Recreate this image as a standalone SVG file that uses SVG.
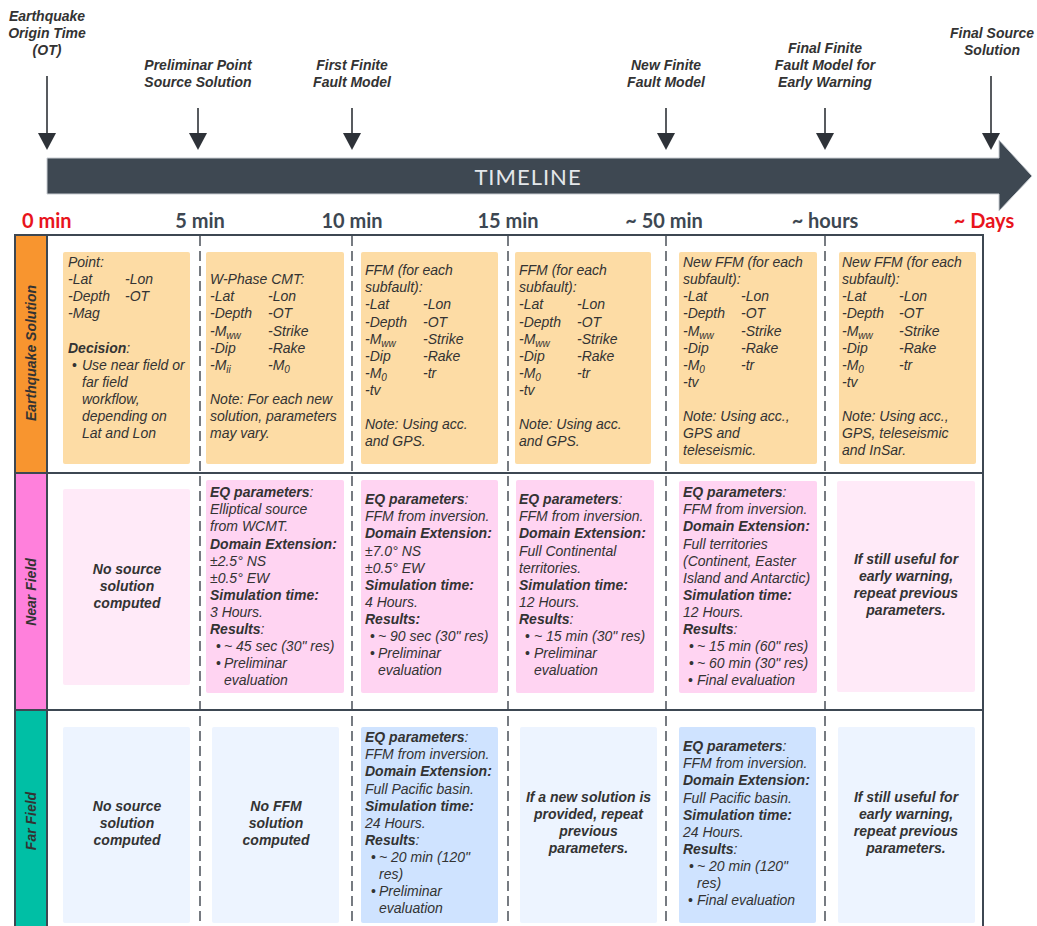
<svg xmlns="http://www.w3.org/2000/svg" width="1037" height="926" viewBox="0 0 1037 926">
<style>
.t{font-family:"Liberation Sans",Arial,sans-serif;font-size:14px;font-style:italic;fill:#333}
.b{font-weight:bold}
.c{text-anchor:middle}
.hd{font-family:"Liberation Sans",Arial,sans-serif;font-size:14px;font-weight:bold;font-style:italic;fill:#333;text-anchor:middle}
.tm{font-family:Lato,"Liberation Sans",sans-serif;font-size:20px;font-weight:bold;fill:#3D4752;text-anchor:middle}
.red{fill:#E8141C}
.shaft{stroke:#2E3238;stroke-width:1.6;fill:none}
.head{fill:#2E3238}
.dash{stroke:#555B63;stroke-width:1.6;stroke-dasharray:10 5;fill:none}
.grid{stroke:#3D4752;stroke-width:2;fill:none}
.or{fill:#FDDCA5}
.pk{fill:#FFD4F2}
.lpk{fill:#FFEAF8}
.bl{fill:#CFE3FF}
.lbl{fill:#EDF4FF}
.sub{font-size:10px}
</style>
<rect width="1037" height="926" fill="#FFFFFF"/>

<g id="timeline">
<path d="M47,158 H999 V140 L1032,176 L999,211 V194 H47 Z" fill="#3E4852" stroke="#C9CDD2" stroke-width="1"/>
<text x="528" y="185" font-family="Lato,'Liberation Sans',sans-serif" font-size="22" letter-spacing="1" fill="#E4E7EA" text-anchor="middle">TIMELINE</text>
</g>

<g id="milestones">
<g id="m-ot">
<text class="hd" x="47" y="21">Earthquake</text>
<text class="hd" x="47" y="38">Origin Time</text>
<text class="hd" x="47" y="55">(OT)</text>
<line class="shaft" x1="47" y1="76" x2="47" y2="135"/>
<polygon class="head" points="38,133 56,133 47,150"/>
</g>
<g id="m-prelim">
<text class="hd" x="198" y="70">Preliminar Point</text>
<text class="hd" x="198" y="87">Source Solution</text>
<line class="shaft" x1="198" y1="108" x2="198" y2="135"/>
<polygon class="head" points="189,133 207,133 198,150"/>
</g>
<g id="m-first">
<text class="hd" x="352" y="70">First Finite</text>
<text class="hd" x="352" y="87">Fault Model</text>
<line class="shaft" x1="352" y1="108" x2="352" y2="135"/>
<polygon class="head" points="343,133 361,133 352,150"/>
</g>
<g id="m-new">
<text class="hd" x="666" y="70">New Finite</text>
<text class="hd" x="666" y="87">Fault Model</text>
<line class="shaft" x1="666" y1="108" x2="666" y2="135"/>
<polygon class="head" points="657,133 675,133 666,150"/>
</g>
<g id="m-final-ffm">
<text class="hd" x="825" y="53">Final Finite</text>
<text class="hd" x="825" y="70">Fault Model for</text>
<text class="hd" x="825" y="87">Early Warning</text>
<line class="shaft" x1="825" y1="108" x2="825" y2="135"/>
<polygon class="head" points="816,133 834,133 825,150"/>
</g>
<g id="m-final-src">
<text class="hd" x="992" y="38">Final Source</text>
<text class="hd" x="992" y="55">Solution</text>
<line class="shaft" x1="991" y1="76" x2="991" y2="135"/>
<polygon class="head" points="982,133 1000,133 991,150"/>
</g>
</g>

<g id="time-labels">
<text class="tm red" x="22" y="228" text-anchor="start" style="text-anchor:start">0 min</text>
<text class="tm" x="200" y="228">5 min</text>
<text class="tm" x="352" y="228">10 min</text>
<text class="tm" x="508" y="228">15 min</text>
<text class="tm" x="664" y="228">~ 50 min</text>
<text class="tm" x="825" y="228">~ hours</text>
<text class="tm red" x="984" y="228">~ Days</text>
</g>

<g id="row-labels">
<rect x="15" y="235" width="32" height="238" fill="#F8952F"/>
<rect x="15" y="473" width="32" height="237" fill="#FF80DC"/>
<rect x="15" y="710" width="32" height="220" fill="#00BFA5"/>
<text class="hd" transform="translate(36,353) rotate(-90)" x="0" y="0">Earthquake Solution</text>
<text class="hd" transform="translate(36,592) rotate(-90)" x="0" y="0">Near Field</text>
<text class="hd" transform="translate(36,821) rotate(-90)" x="0" y="0">Far Field</text>
</g>

<g id="connectors">
<line class="dash" x1="200" y1="236" x2="200" y2="926"/>
<line class="dash" x1="352" y1="236" x2="352" y2="926"/>
<line class="dash" x1="508" y1="236" x2="508" y2="926"/>
<line class="dash" x1="666" y1="236" x2="666" y2="926"/>
<line class="dash" x1="825" y1="236" x2="825" y2="926"/>
<rect class="grid" x="15" y="235" width="968" height="700"/>
<line class="grid" x1="15" y1="473" x2="983" y2="473"/>
<line class="grid" x1="15" y1="710" x2="983" y2="710"/>
<line class="grid" x1="47" y1="235" x2="47" y2="930"/>
</g>

<!-- Row 1: Earthquake Solution -->
<g id="eq-0">
<rect class="or" x="63" y="252" width="127" height="212" rx="2"/>
<text class="t" x="68" y="267">Point:</text>
<text class="t" x="68" y="284">-Lat</text><text class="t" x="125" y="284">-Lon</text>
<text class="t" x="68" y="301">-Depth</text><text class="t" x="125" y="301">-OT</text>
<text class="t" x="68" y="318">-Mag</text>
<text class="t" x="68" y="352.5"><tspan class="b">Decision</tspan>:</text>
<text class="t" x="72" y="369.5" style="font-style:normal">•</text>
<text class="t" x="82" y="369.5">Use near field or</text>
<text class="t" x="82" y="386.5">far field</text>
<text class="t" x="82" y="404">workflow,</text>
<text class="t" x="82" y="421">depending on</text>
<text class="t" x="82" y="438">Lat and Lon</text>
</g>
<g id="eq-5">
<rect class="or" x="206" y="252" width="138" height="212" rx="2"/>
<text class="t" x="210" y="284">W-Phase CMT:</text>
<text class="t" x="210" y="301">-Lat</text><text class="t" x="268" y="301">-Lon</text>
<text class="t" x="210" y="318">-Depth</text><text class="t" x="268" y="318">-OT</text>
<text class="t" x="210" y="335.5">-M<tspan class="sub" dy="3">ww</tspan></text><text class="t" x="268" y="335.5">-Strike</text>
<text class="t" x="210" y="352.5">-Dip</text><text class="t" x="268" y="352.5">-Rake</text>
<text class="t" x="210" y="369.5">-M<tspan class="sub" dy="3">ii</tspan></text><text class="t" x="268" y="369.5">-M<tspan class="sub" dy="3">0</tspan></text>
<text class="t" x="210" y="403.5">Note: For each new</text>
<text class="t" x="210" y="420.5">solution, parameters</text>
<text class="t" x="210" y="438">may vary.</text>
</g>
<g id="eq-10">
<rect class="or" x="361" y="252" width="137" height="212" rx="2"/>
<text class="t" x="365" y="275">FFM (for each</text>
<text class="t" x="365" y="292">subfault):</text>
<text class="t" x="365" y="309">-Lat</text><text class="t" x="423" y="309">-Lon</text>
<text class="t" x="365" y="326.5">-Depth</text><text class="t" x="423" y="326.5">-OT</text>
<text class="t" x="365" y="343.5">-M<tspan class="sub" dy="3">ww</tspan></text><text class="t" x="423" y="343.5">-Strike</text>
<text class="t" x="365" y="360.5">-Dip</text><text class="t" x="423" y="360.5">-Rake</text>
<text class="t" x="365" y="377.5">-M<tspan class="sub" dy="3">0</tspan></text><text class="t" x="423" y="377.5">-tr</text>
<text class="t" x="365" y="395">-tv</text>
<text class="t" x="365" y="429">Note: Using acc.</text>
<text class="t" x="365" y="446">and GPS.</text>
</g>
<g id="eq-15">
<rect class="or" x="515" y="252" width="136" height="212" rx="2"/>
<text class="t" x="519" y="275">FFM (for each</text>
<text class="t" x="519" y="292">subfault):</text>
<text class="t" x="519" y="309">-Lat</text><text class="t" x="577" y="309">-Lon</text>
<text class="t" x="519" y="326.5">-Depth</text><text class="t" x="577" y="326.5">-OT</text>
<text class="t" x="519" y="343.5">-M<tspan class="sub" dy="3">ww</tspan></text><text class="t" x="577" y="343.5">-Strike</text>
<text class="t" x="519" y="360.5">-Dip</text><text class="t" x="577" y="360.5">-Rake</text>
<text class="t" x="519" y="377.5">-M<tspan class="sub" dy="3">0</tspan></text><text class="t" x="577" y="377.5">-tr</text>
<text class="t" x="519" y="395">-tv</text>
<text class="t" x="519" y="429">Note: Using acc.</text>
<text class="t" x="519" y="446">and GPS.</text>
</g>
<g id="eq-50">
<rect class="or" x="679" y="252" width="138" height="212" rx="2"/>
<text class="t" x="683" y="267">New FFM (for each</text>
<text class="t" x="683" y="284">subfault):</text>
<text class="t" x="683" y="301">-Lat</text><text class="t" x="741" y="301">-Lon</text>
<text class="t" x="683" y="318">-Depth</text><text class="t" x="741" y="318">-OT</text>
<text class="t" x="683" y="335.5">-M<tspan class="sub" dy="3">ww</tspan></text><text class="t" x="741" y="335.5">-Strike</text>
<text class="t" x="683" y="352.5">-Dip</text><text class="t" x="741" y="352.5">-Rake</text>
<text class="t" x="683" y="369.5">-M<tspan class="sub" dy="3">0</tspan></text><text class="t" x="741" y="369.5">-tr</text>
<text class="t" x="683" y="386.5">-tv</text>
<text class="t" x="683" y="421">Note: Using acc.,</text>
<text class="t" x="683" y="438">GPS and</text>
<text class="t" x="683" y="455">teleseismic.</text>
</g>
<g id="eq-hours">
<rect class="or" x="839" y="252" width="137" height="212" rx="2"/>
<text class="t" x="842" y="267">New FFM (for each</text>
<text class="t" x="842" y="284">subfault):</text>
<text class="t" x="842" y="301">-Lat</text><text class="t" x="899" y="301">-Lon</text>
<text class="t" x="842" y="318">-Depth</text><text class="t" x="899" y="318">-OT</text>
<text class="t" x="842" y="335.5">-M<tspan class="sub" dy="3">ww</tspan></text><text class="t" x="899" y="335.5">-Strike</text>
<text class="t" x="842" y="352.5">-Dip</text><text class="t" x="899" y="352.5">-Rake</text>
<text class="t" x="842" y="369.5">-M<tspan class="sub" dy="3">0</tspan></text><text class="t" x="899" y="369.5">-tr</text>
<text class="t" x="842" y="386.5">-tv</text>
<text class="t" x="842" y="421">Note: Using acc.,</text>
<text class="t" x="842" y="438">GPS, teleseismic</text>
<text class="t" x="842" y="455">and InSar.</text>
</g>

<!-- Row 2: Near Field -->
<g id="nf-0">
<rect class="lpk" x="63" y="489" width="127" height="196" rx="2"/>
<text class="t b c" x="127" y="574">No source</text>
<text class="t b c" x="127" y="591">solution</text>
<text class="t b c" x="127" y="608">computed</text>
</g>
<g id="nf-5">
<rect class="pk" x="206" y="480" width="138" height="213" rx="2"/>
<text class="t" x="210" y="497"><tspan class="b">EQ parameters</tspan>:</text>
<text class="t" x="210" y="514">Elliptical source</text>
<text class="t" x="210" y="531">from WCMT.</text>
<text class="t b" x="210" y="548.5">Domain Extension:</text>
<text class="t" x="210" y="565.5">±2.5° NS</text>
<text class="t" x="210" y="582.5">±0.5° EW</text>
<text class="t b" x="210" y="599.5">Simulation time:</text>
<text class="t" x="210" y="617">3 Hours.</text>
<text class="t" x="210" y="634"><tspan class="b">Results</tspan>:</text>
<text class="t" x="216" y="651" style="font-style:normal">•</text><text class="t" x="224" y="651">~ 45 sec (30" res)</text>
<text class="t" x="216" y="668" style="font-style:normal">•</text><text class="t" x="224" y="668">Preliminar</text>
<text class="t" x="224" y="685">evaluation</text>
</g>
<g id="nf-10">
<rect class="pk" x="361" y="480" width="137" height="213" rx="2"/>
<text class="t" x="365" y="504"><tspan class="b">EQ parameters</tspan>:</text>
<text class="t" x="365" y="521">FFM from inversion.</text>
<text class="t b" x="365" y="538">Domain Extension:</text>
<text class="t" x="365" y="555.5">±7.0° NS</text>
<text class="t" x="365" y="572.5">±0.5° EW</text>
<text class="t b" x="365" y="589.5">Simulation time:</text>
<text class="t" x="365" y="606.5">4 Hours.</text>
<text class="t b" x="365" y="624">Results:</text>
<text class="t" x="370" y="641" style="font-style:normal">•</text><text class="t" x="378" y="641">~ 90 sec (30" res)</text>
<text class="t" x="370" y="658" style="font-style:normal">•</text><text class="t" x="378" y="658">Preliminar</text>
<text class="t" x="378" y="675">evaluation</text>
</g>
<g id="nf-15">
<rect class="pk" x="516" y="480" width="138" height="213" rx="2"/>
<text class="t" x="519" y="504"><tspan class="b">EQ parameters</tspan>:</text>
<text class="t" x="519" y="521">FFM from inversion.</text>
<text class="t b" x="519" y="538">Domain Extension:</text>
<text class="t" x="519" y="555.5">Full Continental</text>
<text class="t" x="519" y="572.5">territories.</text>
<text class="t b" x="519" y="589.5">Simulation time:</text>
<text class="t" x="519" y="606.5">12 Hours.</text>
<text class="t" x="519" y="624"><tspan class="b">Results</tspan>:</text>
<text class="t" x="525" y="641" style="font-style:normal">•</text><text class="t" x="534" y="641">~ 15 min (30" res)</text>
<text class="t" x="525" y="658" style="font-style:normal">•</text><text class="t" x="534" y="658">Preliminar</text>
<text class="t" x="534" y="675">evaluation</text>
</g>
<g id="nf-50">
<rect class="pk" x="679" y="481" width="138" height="212" rx="2"/>
<text class="t" x="683" y="497"><tspan class="b">EQ parameters</tspan>:</text>
<text class="t" x="683" y="514">FFM from inversion.</text>
<text class="t b" x="683" y="531">Domain Extension:</text>
<text class="t" x="683" y="548.5">Full territories</text>
<text class="t" x="683" y="565.5">(Continent, Easter</text>
<text class="t" x="683" y="582.5">Island and Antarctic)</text>
<text class="t b" x="683" y="599.5">Simulation time:</text>
<text class="t" x="683" y="617">12 Hours.</text>
<text class="t" x="683" y="634"><tspan class="b">Results</tspan>:</text>
<text class="t" x="689" y="651" style="font-style:normal">•</text><text class="t" x="697" y="651">~ 15 min (60" res)</text>
<text class="t" x="689" y="668" style="font-style:normal">•</text><text class="t" x="697" y="668">~ 60 min (30" res)</text>
<text class="t" x="688" y="685" style="font-style:normal">•</text><text class="t" x="697" y="685">Final evaluation</text>
</g>
<g id="nf-hours">
<rect class="lpk" x="837" y="481" width="138" height="211" rx="2"/>
<text class="t b c" x="906" y="564">If still useful for</text>
<text class="t b c" x="906" y="581">early warning,</text>
<text class="t b c" x="906" y="598">repeat previous</text>
<text class="t b c" x="906" y="615">parameters.</text>
</g>

<!-- Row 3: Far Field -->
<g id="ff-0">
<rect class="lbl" x="63" y="727" width="127" height="196" rx="2"/>
<text class="t b c" x="127" y="811">No source</text>
<text class="t b c" x="127" y="828">solution</text>
<text class="t b c" x="127" y="845">computed</text>
</g>
<g id="ff-5">
<rect class="lbl" x="212" y="727" width="127" height="196" rx="2"/>
<text class="t b c" x="276" y="811">No FFM</text>
<text class="t b c" x="276" y="828">solution</text>
<text class="t b c" x="276" y="845">computed</text>
</g>
<g id="ff-10">
<rect class="bl" x="361" y="727" width="137" height="196" rx="2"/>
<text class="t" x="365" y="742"><tspan class="b">EQ parameters</tspan>:</text>
<text class="t" x="365" y="759">FFM from inversion.</text>
<text class="t b" x="365" y="776">Domain Extension:</text>
<text class="t" x="365" y="793.5">Full Pacific basin.</text>
<text class="t b" x="365" y="810.5">Simulation time:</text>
<text class="t" x="365" y="827.5">24 Hours.</text>
<text class="t" x="365" y="844.5"><tspan class="b">Results</tspan>:</text>
<text class="t" x="371" y="862" style="font-style:normal">•</text><text class="t" x="379" y="862">~ 20 min (120"</text>
<text class="t" x="379" y="879">res)</text>
<text class="t" x="371" y="896" style="font-style:normal">•</text><text class="t" x="379" y="896">Preliminar</text>
<text class="t" x="379" y="913">evaluation</text>
</g>
<g id="ff-15">
<rect class="lbl" x="520" y="727" width="137" height="196" rx="2"/>
<text class="t b c" x="588.5" y="802">If a new solution is</text>
<text class="t b c" x="588.5" y="819">provided, repeat</text>
<text class="t b c" x="588.5" y="836">previous</text>
<text class="t b c" x="588.5" y="853">parameters.</text>
</g>
<g id="ff-50">
<rect class="bl" x="679" y="727" width="137" height="196" rx="2"/>
<text class="t" x="683" y="751"><tspan class="b">EQ parameters</tspan>:</text>
<text class="t" x="683" y="768">FFM from inversion.</text>
<text class="t b" x="683" y="785">Domain Extension:</text>
<text class="t" x="683" y="802.5">Full Pacific basin.</text>
<text class="t b" x="683" y="819.5">Simulation time:</text>
<text class="t" x="683" y="836.5">24 Hours.</text>
<text class="t" x="683" y="853.5"><tspan class="b">Results</tspan>:</text>
<text class="t" x="689" y="871" style="font-style:normal">•</text><text class="t" x="697" y="871">~ 20 min (120"</text>
<text class="t" x="697" y="888">res)</text>
<text class="t" x="688" y="905" style="font-style:normal">•</text><text class="t" x="697" y="905">Final evaluation</text>
</g>
<g id="ff-hours">
<rect class="lbl" x="838" y="727" width="137" height="196" rx="2"/>
<text class="t b c" x="906" y="802">If still useful for</text>
<text class="t b c" x="906" y="819">early warning,</text>
<text class="t b c" x="906" y="836">repeat previous</text>
<text class="t b c" x="906" y="853">parameters.</text>
</g>
</svg>
